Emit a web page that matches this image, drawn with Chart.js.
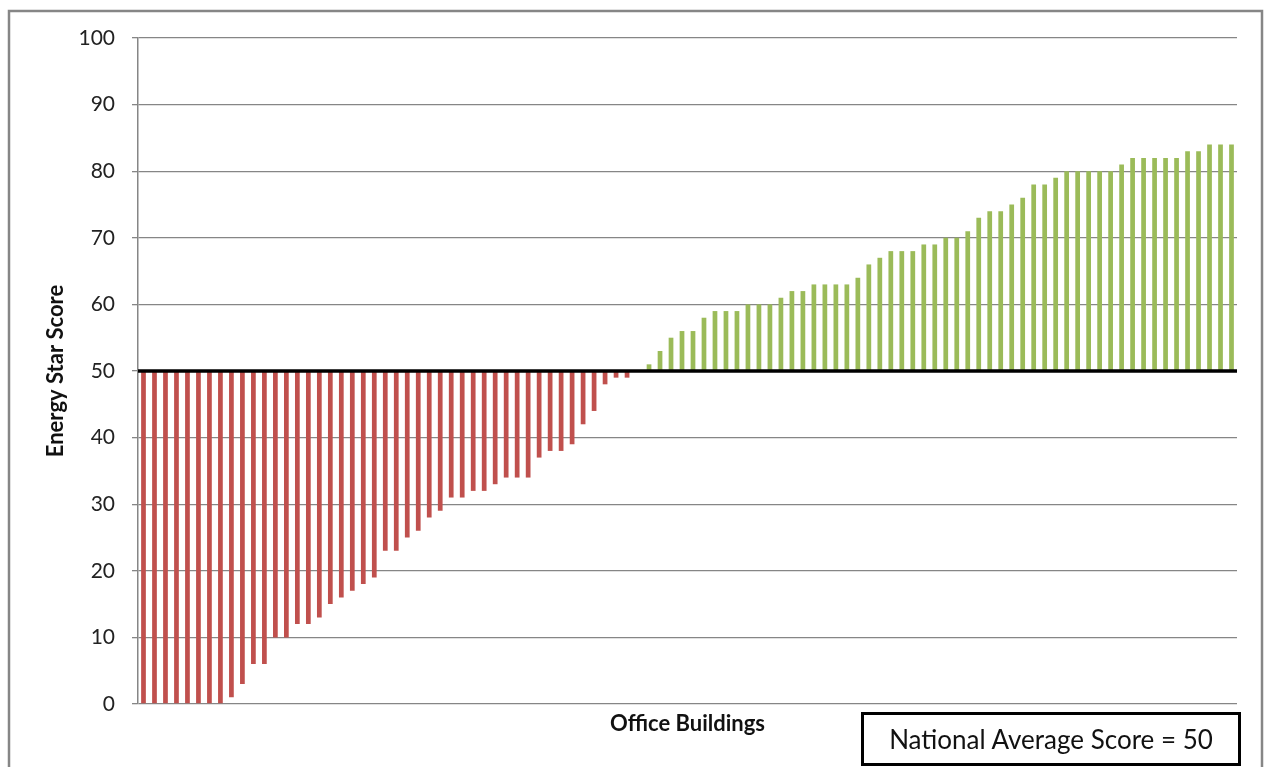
<!DOCTYPE html>
<html>
<head>
<meta charset="utf-8">
<script src="https://cdn.jsdelivr.net/npm/chart.js@4/dist/chart.umd.min.js"></script>
<style>
  html, body { margin: 0; padding: 0; background: #ffffff; }
  #wrap { position: relative; width: 1265px; height: 767px; overflow: hidden; }
  #c { position: absolute; left: 0; top: 0; }
  #note {
    position: absolute; left: 861px; top: 712px; width: 380px; height: 54px;
    box-sizing: border-box; border: 3px solid #000;
    font-family: Lato, "Liberation Sans", sans-serif; font-size: 26px; color: #111;
    display: flex; align-items: center; justify-content: center;
  }
</style>
</head>
<body>
<div id="wrap">
  <canvas id="c" width="1265" height="767"></canvas>
  <div id="note">National Average Score = 50</div>
</div>
<script>
// ---- data ----
const NATIONAL_AVERAGE = 50;
const yTicks = [0, 10, 20, 30, 40, 50, 60, 70, 80, 90, 100];
const scoresBelow = [0, 0, 0, 0, 0, 0, 0, 0, 1, 3, 6, 6, 10, 10, 12, 12, 13, 15, 16, 17, 18, 19,
  23, 23, 25, 26, 28, 29, 31, 31, 32, 32, 33, 34, 34, 34, 37, 38, 38, 39, 42, 44, 48, 49, 49];
const scoresAtOrAbove = [50, 51, 53, 55, 56, 56, 58, 59, 59, 59, 60, 60, 60, 61, 62, 62, 63, 63, 63, 63,
  64, 66, 67, 68, 68, 68, 69, 69, 70, 70, 71, 73, 74, 74, 75, 76, 78, 78, 79, 80, 80, 80, 80, 80,
  81, 82, 82, 82, 82, 82, 83, 83, 84, 84, 84];
const scores = scoresBelow.concat(scoresAtOrAbove);
const buildings = scores.map((_, i) => 'Building ' + (i + 1));

const RED = '#C0504D';
const GREEN = '#9BBB59';
const GRID = '#868686';
const FONT = 'Lato, "Liberation Sans", sans-serif';

const decorations = {
  id: 'decorations',
  beforeDraw(chart) {
    const ctx = chart.ctx;
    ctx.save();
    ctx.strokeStyle = '#868686';
    ctx.lineWidth = 2.5;
    ctx.strokeRect(9, 11, 1253, 780);
    ctx.restore();
  },
  afterDatasetsDraw(chart) {
    const { ctx, chartArea, scales } = chart;
    const y = scales.y.getPixelForValue(NATIONAL_AVERAGE);
    ctx.save();
    ctx.strokeStyle = '#000000';
    ctx.lineWidth = 3.5;
    ctx.beginPath();
    ctx.moveTo(chartArea.left, y);
    ctx.lineTo(chartArea.right, y);
    ctx.stroke();
    ctx.restore();
  }
};

new Chart(document.getElementById('c'), {
  type: 'bar',
  data: {
    labels: buildings,
    datasets: [{
      label: 'Energy Star Score',
      data: scores.map(s => [NATIONAL_AVERAGE, s]),
      backgroundColor: scores.map(s => s < NATIONAL_AVERAGE ? RED : GREEN),
      borderWidth: 0,
      barPercentage: 0.43,
      categoryPercentage: 1.0
    }]
  },
  options: {
    responsive: false,
    animation: false,
    layout: { padding: { left: 0, top: 38, right: 28, bottom: 0 } },
    plugins: {
      legend: { display: false },
      tooltip: { enabled: false },
      title: { display: false }
    },
    scales: {
      x: {
        ticks: { display: false },
        grid: { display: false },
        border: { display: false },
        title: {
          display: true, text: 'Office Buildings', color: '#111',
          font: { family: FONT, size: 22, weight: 'bold' },
          padding: { top: 0, bottom: 30 }
        },
        afterFit(scale) { scale.height = 63; }
      },
      y: {
        min: 0, max: 100,
        afterBuildTicks(scale) { scale.ticks = yTicks.map(v => ({ value: v })); },
        ticks: {
          color: '#222', padding: 17,
          font: { family: FONT, size: 21 }
        },
        grid: { color: GRID, lineWidth: 1.3, tickLength: 6, tickColor: GRID },
        border: { color: GRID, width: 1.5 },
        title: {
          display: true, text: 'Energy Star Score', color: '#111',
          font: { family: FONT, size: 22, weight: 'bold' },
          padding: { top: 43, bottom: 0 }
        },
        afterFit(scale) { scale.width = 138; }
      }
    }
  },
  plugins: [decorations]
});
</script>
</body>
</html>
